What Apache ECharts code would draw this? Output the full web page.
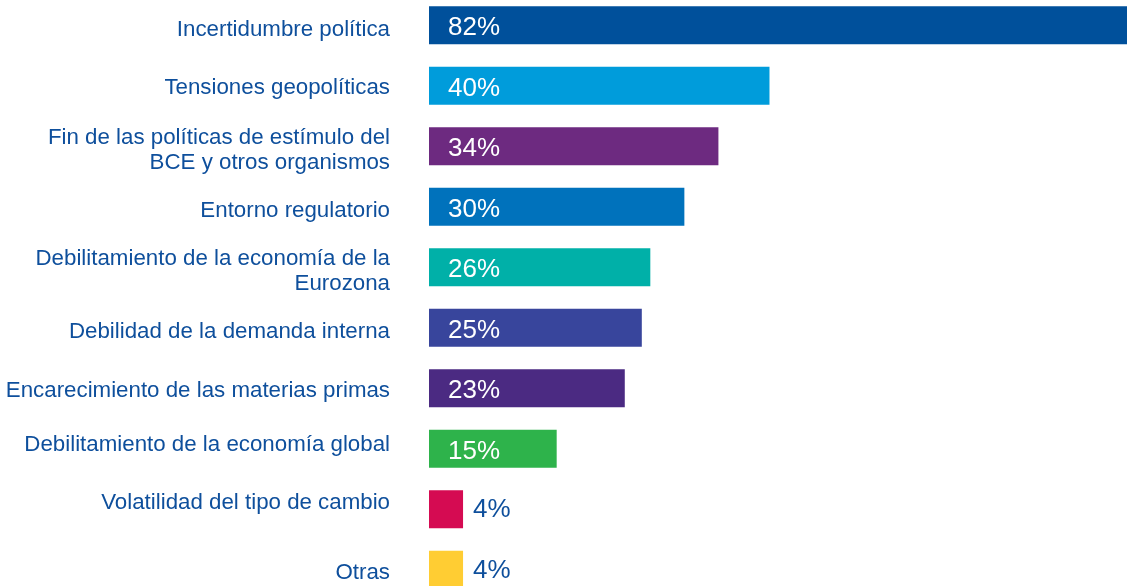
<!DOCTYPE html>
<html>
<head>
<meta charset="utf-8">
<script src="https://cdn.jsdelivr.net/npm/echarts@6/dist/echarts.min.js"></script>
<style>
  html, body { margin: 0; padding: 0; background: #ffffff; overflow: hidden; width: 1127px; height: 586px; position: relative; }
  /* the plot runs slightly past the top and bottom edges, so the last bar is cut off */
  #chart { position: absolute; left: 0; top: -5px; width: 1127px; height: 605px; }
</style>
</head>
<body>
<div id="chart"></div>
<script>
// Risk factors and share of responses (%)
const categories = [
  'Incertidumbre política',
  'Tensiones geopolíticas',
  'Fin de las políticas de estímulo del\nBCE y otros organismos',
  'Entorno regulatorio',
  'Debilitamiento de la economía de la\nEurozona',
  'Debilidad de la demanda interna',
  'Encarecimiento de las materias primas',
  'Debilitamiento de la economía global',
  'Volatilidad del tipo de cambio',
  'Otras'
];
const values = [82, 40, 34, 30, 26, 25, 23, 15, 4, 4];
const barColors = [
  '#00509B', '#009CDB', '#6D2A80', '#0072BC', '#00B0A8',
  '#38459C', '#4B2A82', '#2EB34B', '#D50B52', '#FFCD33'
];

const textBlue = '#0E4F9C';
const font = 'Liberation Sans, Arial, sans-serif';

// vertical nudge (px) of each category label relative to its bar centre
const labelNudge = [5, 2, 4, 4, 4, 4, 3, -4, -6, 3];

const chart = echarts.init(document.getElementById('chart'), null, { renderer: 'canvas' });

const data = values.map((v, i) => {
  const small = v < 8;
  return {
    value: v,
    itemStyle: { color: barColors[i] },
    label: small
      ? { position: 'right', distance: 10, color: textBlue, offset: [0, 1] }
      : { position: 'insideLeft', distance: 19, color: '#ffffff', offset: [0, 3] }
  };
});

// spacer lines above (push down) or below (pull up) the label text
const rich = {
  n: { color: textBlue, fontFamily: font, fontSize: 22.3, lineHeight: 25, align: 'right' }
};
labelNudge.forEach((d, i) => {
  rich['s' + i] = { fontSize: 2, lineHeight: Math.max(1, Math.abs(d) * 2) };
});

const labelFormatter = (v, idx) => {
  const body = v.split('\n').map(s => '{n|' + s + '}').join('\n');
  const d = labelNudge[idx] || 0;
  if (d > 0) return '{s' + idx + '| }\n' + body;
  if (d < 0) return body + '\n{s' + idx + '| }';
  return body;
};

chart.setOption({
  animation: false,
  grid: { left: 429, right: 0, top: 0, bottom: 0, containLabel: false },
  xAxis: {
    type: 'value', min: 0, max: 82,
    show: false
  },
  yAxis: {
    type: 'category',
    data: categories,
    inverse: true,
    axisLine: { show: false },
    axisTick: { show: false },
    splitLine: { show: false },
    axisLabel: {
      margin: 39,
      align: 'right',
      formatter: labelFormatter,
      rich: rich
    }
  },
  series: [{
    type: 'bar',
    data: data,
    barWidth: 38,
    label: {
      show: true,
      fontFamily: font,
      fontSize: 26,
      formatter: p => p.value + '%'
    }
  }]
});
</script>
</body>
</html>
